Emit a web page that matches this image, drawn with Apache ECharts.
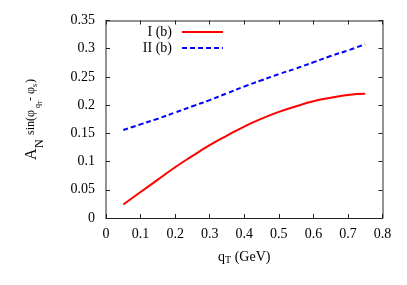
<!DOCTYPE html>
<html><head><meta charset="utf-8">
<script src="https://cdn.jsdelivr.net/npm/echarts@6/dist/echarts.min.js"></script>
<style>html,body{margin:0;padding:0;background:#fff}#c{width:407px;height:285px}</style>
</head><body><div id="c"></div>
<script>
const qT = [0.05,0.10,0.15,0.20,0.25,0.30,0.35,0.40,0.45,0.50,0.55,0.60,0.65,0.70,0.75];
const seriesI = [0.024,0.046,0.068,0.090,0.110,0.129,0.146,0.162,0.176,0.188,0.198,0.207,0.213,0.218,0.220];
const seriesII = [0.156,0.166,0.176,0.187,0.198,0.209,0.221,0.233,0.244,0.255,0.265,0.276,0.287,0.297,0.308];
const names = ['I (b)','II (b)'];

const F = 'Liberation Serif, Times New Roman, serif';
const chart = echarts.init(document.getElementById('c'));
const pair = (xs, ys) => xs.map((x,i)=>[x, ys[i]]);
const gray = '#707070';
function txt(t, x, y, size){
  return {type:'text', x:x, y:y, style:{text:t, fontFamily:F, fontSize:size, fill:'#000', textAlign:'left', textVerticalAlign:'middle', verticalAlign:'middle'}};
}
const solidIcon = 'path://M0,0h41v2h-41z';
const dashIcon = 'path://M0,0h5v2h-5z M8,0h5v2h-5z M16,0h5v2h-5z M24,0h5v2h-5z M32,0h5v2h-5z M40,0h1v2h-1z';
const legendBase = {orient:'vertical', align:'right', itemWidth:41, itemHeight:2, right:179,
  textStyle:{fontFamily:F, fontSize:14, color:'#000', padding:[0,5,0,0]}};
chart.setOption({
  animation:false,
  grid:{left:106, right:24.5, top:20.5, bottom:67},
  legend:[
    Object.assign({data:[{name:names[0], icon:solidIcon}], top:20}, legendBase),
    Object.assign({data:[{name:names[1], icon:dashIcon}], top:36}, legendBase)
  ],
  xAxis:[
    {type:'value', min:0, max:0.8, interval:0.1, position:'bottom',
     axisLine:{show:true, onZero:false, lineStyle:{color:'#222', width:1}},
     axisTick:{show:true, inside:true, length:4, lineStyle:{color:'#222'}},
     axisLabel:{fontFamily:F, fontSize:14, color:'#000', margin:9},
     splitLine:{show:false},
     name:'{q|q}{sub|T}{n| (GeV)}', nameLocation:'middle', nameGap:31,
     nameTextStyle:{fontFamily:F, fontSize:14, color:'#000',
       rich:{q:{fontFamily:F, fontSize:14, color:'#000'}, sub:{fontFamily:F, fontSize:10, color:'#000', padding:[6,0,0,0]}, n:{fontFamily:F, fontSize:14, color:'#000'}}}},
    {type:'value', min:0, max:0.8, interval:0.1, position:'top',
     axisLine:{show:true, onZero:false, lineStyle:{color:gray, width:1.5}},
     axisTick:{show:true, inside:true, length:4, lineStyle:{color:'#222'}},
     axisLabel:{show:false}, splitLine:{show:false}}
  ],
  yAxis:[
    {type:'value', min:0, max:0.35, interval:0.05, position:'left',
     axisLine:{show:true, onZero:false, lineStyle:{color:gray, width:1.5}},
     axisTick:{show:true, inside:true, length:4, lineStyle:{color:'#222'}},
     axisLabel:{fontFamily:F, fontSize:14, color:'#000', margin:11},
     splitLine:{show:false}},
    {type:'value', min:0, max:0.35, interval:0.05, position:'right',
     axisLine:{show:true, onZero:false, lineStyle:{color:gray, width:1.5}},
     axisTick:{show:true, inside:true, length:4, lineStyle:{color:'#222'}},
     axisLabel:{show:false}, splitLine:{show:false}}
  ],
  graphic:[
    {type:'group', x:32, y:160, rotation:Math.PI/2, children:[
      txt('A', 0, 0, 16),
      txt('N', 12, 8, 12),
      txt('sin(φ', 25, -1, 12),
      txt('q', 52, 6, 8),
      txt('T', 56, 8, 6),
      txt('- φ', 59, -1, 12),
      txt('s', 73, 3, 8),
      txt(')', 77, -1, 12)
    ]}
  ],
  series:[
    {name:names[0], type:'line', data:pair(qT, seriesI), smooth:true, showSymbol:false, symbol:'none',
     lineStyle:{color:'#ff0000', width:2}, itemStyle:{color:'#ff0000'}},
    {name:names[1], type:'line', data:pair(qT, seriesII), smooth:true, showSymbol:false, symbol:'none',
     lineStyle:{color:'#0000ff', width:2, type:[5,3]}, itemStyle:{color:'#0000ff'}}
  ]
});
</script></body></html>
